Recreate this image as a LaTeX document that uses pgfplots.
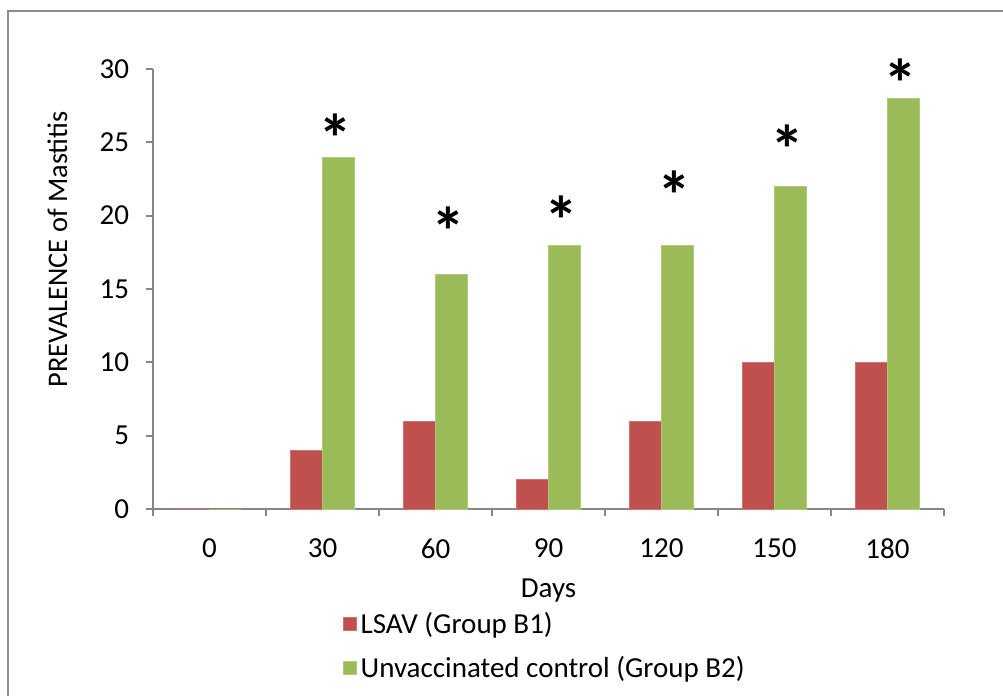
\documentclass[border=0pt]{standalone}
\usepackage{pgfplots}
\pgfplotsset{compat=1.18}
\usepackage{fontspec}
\setmainfont{Carlito}
\definecolor{barred}{HTML}{C0504D}
\definecolor{bargreen}{HTML}{9BBB59}
\definecolor{axisgray}{HTML}{868686}
\definecolor{framegray}{HTML}{8C8C8C}

\pgfplotstableread{
x  b1  b2
0  0   0
1  4   24
2  6   16
3  2   18
4  6   18
5  10  22
6  10  28
}\prevtable

% heights at which the significance stars sit
\pgfplotstableread{
x    s
1    26.2
2    19.8
3    20.6
4    22.3
5    25.4
6    29.9
}\startable

\begin{document}
\begin{tikzpicture}[x=1bp,y=1bp]
\begin{axis}[
  at={(0,0)}, anchor=south west,
  scale only axis,
  width=395.5bp, height=220bp,
  xmin=-0.5, xmax=6.5,
  ymin=0, ymax=30,
  ytick={0,5,...,30},
  xtick={0,...,6},
  xticklabels={0,30,60,90,120,150,180},
  minor xtick={-0.5,0.5,...,6.5},
  major x tick style={draw=none},
  minor tick length=3.5bp,
  major tick length=3.5bp,
  tick align=outside,
  axis x line*=bottom,
  axis y line*=left,
  axis line style={axisgray, line width=1bp},
  every tick/.style={axisgray, line width=1bp},
  tick style={axisgray, line width=1bp},
  /pgf/number format/assume math mode=true,
  ticklabel style={font=\fontsize{14.5bp}{17bp}\selectfont},
  yticklabel style={xshift=-5bp},
  xticklabel style={yshift=-8bp},
  xlabel={Days},
  ylabel={PREVALENCE of Mastitis},
  xlabel style={font=\fontsize{14.5bp}{17bp}\selectfont, yshift=-3bp},
  ylabel style={font=\fontsize{14.2bp}{17bp}\selectfont,
    at={(axis description cs:-0.121,0.59)}, anchor=center},
  ybar, bar width=0.283,
  legend style={
    at={(axis description cs:0.232,-0.215)}, anchor=north west,
    draw=none, fill=none,
    font=\fontsize{14.5bp}{17bp}\selectfont,
    row sep=6bp,
    legend cell align=left,
  },
  legend image code/.code={
    \fill[#1] (0bp,-3.25bp) rectangle (6.5bp,3.25bp);
  },
  clip=false,
]
\addplot[fill=barred, draw=barred!80!white, bar shift=-0.1415] table[x=x,y=b1] {\prevtable};
\addlegendentry{LSAV (Group B1)}
\addplot[fill=bargreen, draw=bargreen!80!white, bar shift=0.1415] table[x=x,y=b2] {\prevtable};
\addlegendentry{Unvaccinated control (Group B2)}
\addplot[draw=none, fill=none, mark=none, forget plot, bar shift=0pt, bar width=0pt,
  nodes near coords={\textbf{*}},
  every node near coord/.style={anchor=center, black, font=\fontsize{34bp}{34bp}\selectfont\bfseries, xshift=6.5bp, yshift=-6.5bp}]
  table[x=x,y=s] {\startable};
\end{axis}
\draw[framegray, line width=1bp] (-72.5bp,249bp) rectangle (426.5bp,-96bp);
\pgfresetboundingbox
\useasboundingbox (-76.5bp,-93.5bp) rectangle (425bp,254.5bp);
\end{tikzpicture}
\end{document}
